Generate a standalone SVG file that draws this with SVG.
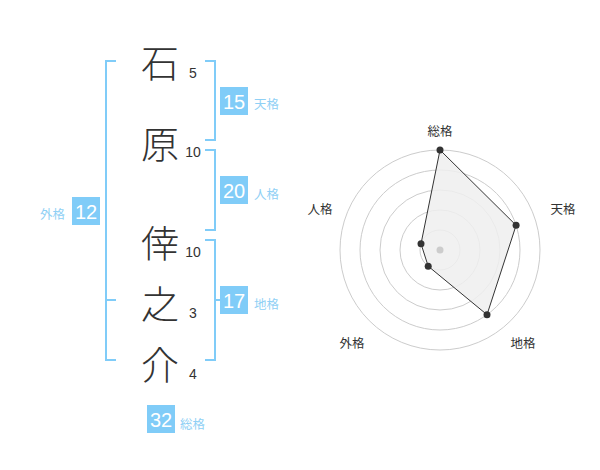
<svg xmlns="http://www.w3.org/2000/svg" width="600" height="470" viewBox="0 0 600 470">
<style>
.kanji{font-family:"Noto Sans CJK JP","Noto Sans CJK SC",sans-serif;font-size:38px;font-weight:300;fill:#333;text-anchor:middle;dominant-baseline:central}
.num{font-family:"Liberation Sans",Arial,sans-serif;font-size:14px;fill:#333;text-anchor:middle;dominant-baseline:central}
.br{fill:none;stroke:#80ccf8;stroke-width:2}
.box{fill:#80ccf8}
.bt{font-family:"Liberation Sans",Arial,sans-serif;font-size:20px;fill:#fff;text-anchor:middle;dominant-baseline:central}
.lb{font-family:"Noto Sans CJK JP",sans-serif;font-size:12.5px;fill:#8fd0f5;dominant-baseline:central}
.ring{fill:none;stroke:#ccc;stroke-width:1}
.rl{font-family:"Noto Sans CJK JP",sans-serif;font-size:12.5px;fill:#333;text-anchor:middle;dominant-baseline:central}
.pt{fill:#333}
</style>
<rect width="600" height="470" fill="#fff"/>
<g id="chars">
<text class="kanji" x="160" y="60">石</text>
<text class="kanji" x="160" y="141">原</text>
<text class="kanji" x="160" y="240">倖</text>
<text class="kanji" x="160" y="301">之</text>
<text class="kanji" x="160" y="362">介</text>
<text class="num" x="193" y="73">5</text>
<text class="num" x="193" y="152">10</text>
<text class="num" x="193" y="252">10</text>
<text class="num" x="193" y="313">3</text>
<text class="num" x="193" y="374">4</text>
</g>
<g id="connectors">
<path class="br" d="M116,61 H106 V360 H116 M106,300 H116"/>
<path class="br" d="M205,61 H215 V140 H205"/>
<path class="br" d="M205,150 H215 V230 H205"/>
<path class="br" d="M205,240 H215 V360 H205 M215,300 H222"/>
</g>
<g id="gaikaku">
<rect class="box" x="72" y="197" width="28" height="28"/>
<text class="bt" x="86" y="212">12</text>
<text class="lb" x="40" y="213">外格</text>
</g>
<g id="tenkaku">
<rect class="box" x="220" y="87" width="28" height="28"/>
<text class="bt" x="234" y="102">15</text>
<text class="lb" x="254" y="103">天格</text>
</g>
<g id="jinkaku">
<rect class="box" x="220" y="176" width="28" height="28"/>
<text class="bt" x="234" y="191">20</text>
<text class="lb" x="254" y="193">人格</text>
</g>
<g id="chikaku">
<rect class="box" x="220" y="286" width="28" height="28"/>
<text class="bt" x="234" y="301">17</text>
<text class="lb" x="254" y="303">地格</text>
</g>
<g id="soukaku">
<rect class="box" x="147" y="405" width="28" height="28"/>
<text class="bt" x="161" y="420">32</text>
<text class="lb" x="180" y="423">総格</text>
</g>
<g id="radar">
<circle class="ring" cx="440" cy="250" r="20"/>
<circle class="ring" cx="440" cy="250" r="40"/>
<circle class="ring" cx="440" cy="250" r="60"/>
<circle class="ring" cx="440" cy="250" r="80"/>
<circle class="ring" cx="440" cy="250" r="100"/>
<polygon points="440,150 516.1,225.3 487,314.7 428.2,266.2 421,243.8" fill="#eee" fill-opacity="0.85" stroke="#333" stroke-width="1"/>
<circle cx="440" cy="250" r="3.5" fill="#ccc"/>
<circle class="pt" cx="440" cy="150" r="3.5"/>
<circle class="pt" cx="516.1" cy="225.3" r="3.5"/>
<circle class="pt" cx="487" cy="314.7" r="3.5"/>
<circle class="pt" cx="428.2" cy="266.2" r="3.5"/>
<circle class="pt" cx="421" cy="243.8" r="3.5"/>
<text class="rl" x="440" y="130">総格</text>
<text class="rl" x="563" y="208">天格</text>
<text class="rl" x="523" y="342">地格</text>
<text class="rl" x="352" y="342">外格</text>
<text class="rl" x="320" y="208">人格</text>
</g>
</svg>
